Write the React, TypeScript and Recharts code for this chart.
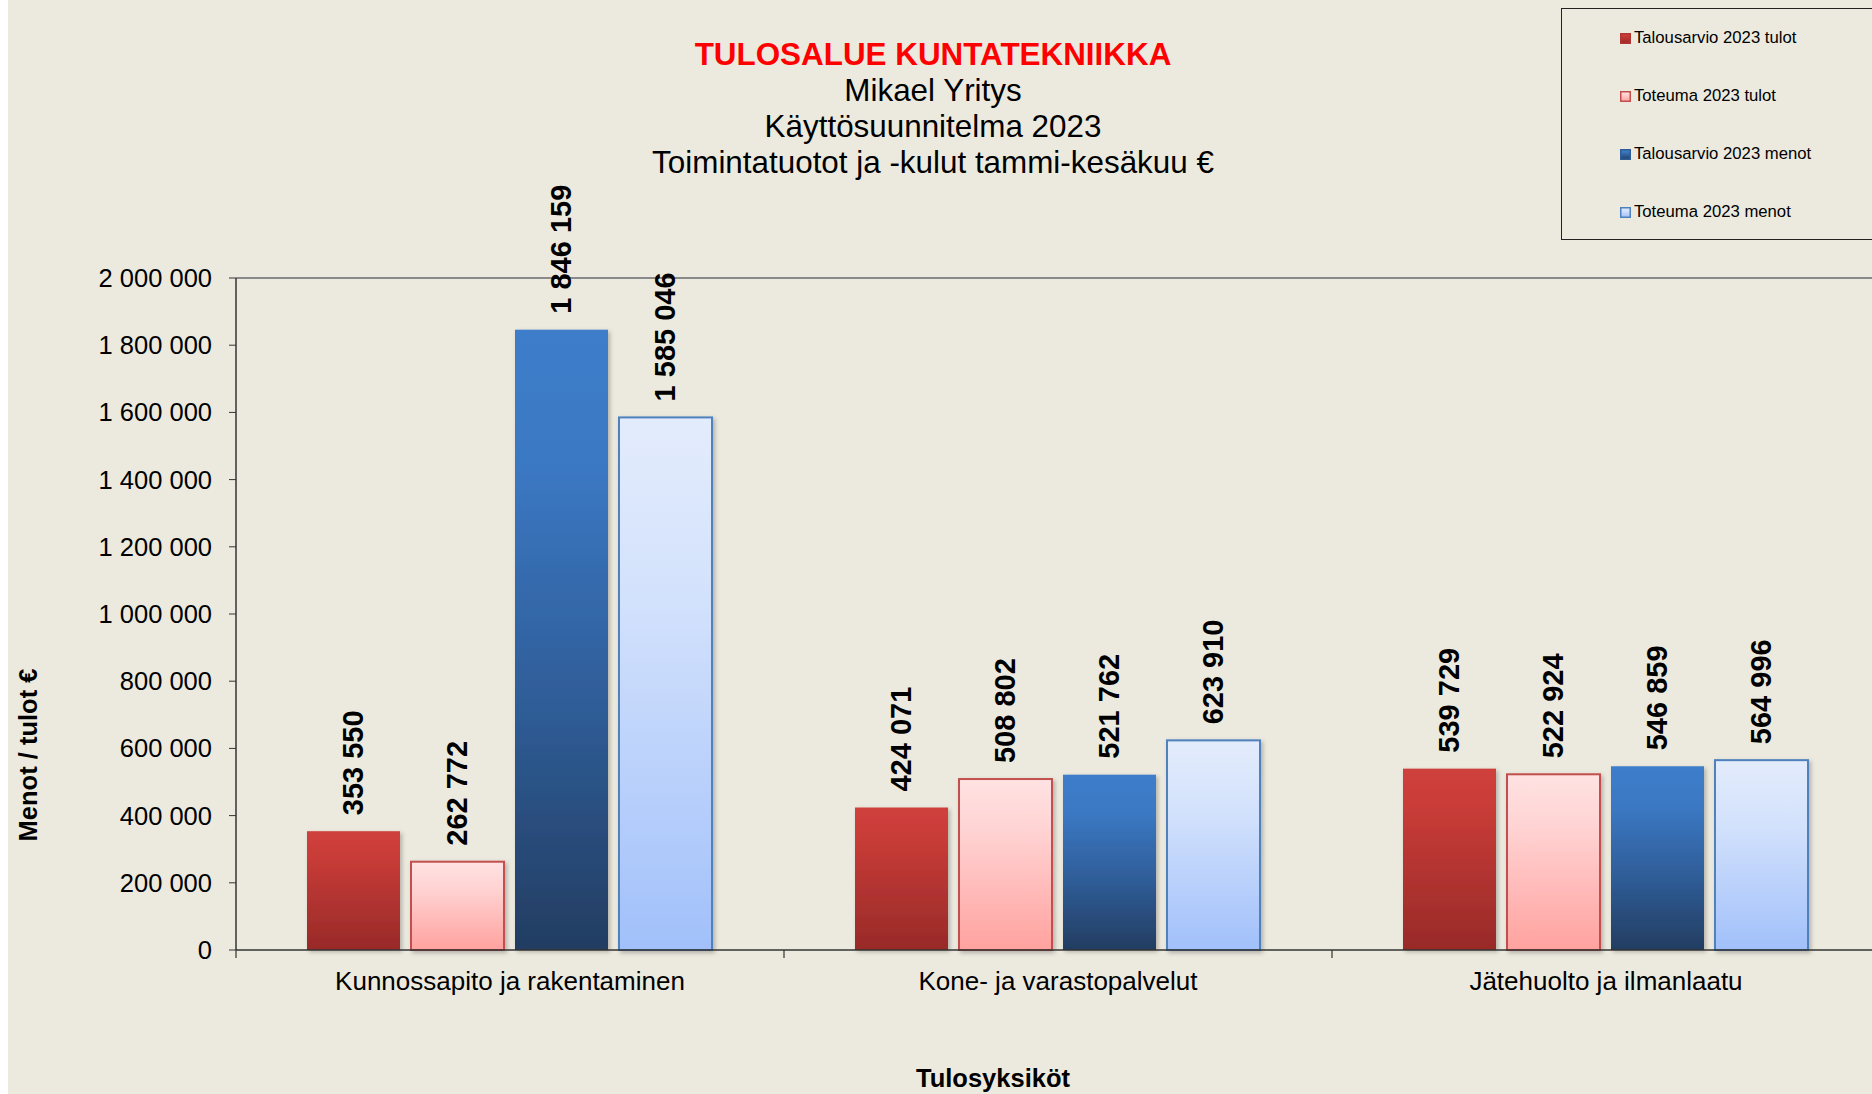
import { BarChart, Bar, XAxis, YAxis, Legend, LabelList, ReferenceLine, Label } from "recharts";

const categories = ["Kunnossapito ja rakentaminen", "Kone- ja varastopalvelut", "Jätehuolto ja ilmanlaatu"];
const budgetIncome = [353550, 424071, 539729];
const actualIncome = [262772, 508802, 522924];
const budgetCosts = [1846159, 521762, 546859];
const actualCosts = [1585046, 623910, 564996];
const seriesNames = ["Talousarvio 2023 tulot", "Toteuma 2023 tulot", "Talousarvio 2023 menot", "Toteuma 2023 menot"];
const yTicks = [0, 200000, 400000, 600000, 800000, 1000000, 1200000, 1400000, 1600000, 1800000, 2000000];
const titleLines = ["TULOSALUE KUNTATEKNIIKKA", "Mikael Yritys", "Käyttösuunnitelma 2023", "Toimintatuotot ja -kulut tammi-kesäkuu €"];

const FONT = "'Liberation Sans', Arial, sans-serif";
const BG = "#ECEADF";
const CHART_W = 1872;
const CHART_H = 1094;
const Y_AXIS_W = 228;
const BAND = (CHART_W - Y_AXIS_W) / categories.length;

const data = categories.map((name, i) => ({
  name,
  s1: budgetIncome[i],
  s2: actualIncome[i],
  s3: budgetCosts[i],
  s4: actualCosts[i],
}));

const fmt = (v: number) => String(v).replace(/\B(?=(\d{3})+(?!\d))/g, " ");

const series = [
  { key: "s1", fill: "url(#g1)", stroke: "none", sw: 0, legendStroke: "#B23532" },
  { key: "s2", fill: "url(#g2)", stroke: "#C0504D", sw: 2, legendStroke: "#C0504D" },
  { key: "s3", fill: "url(#g3)", stroke: "none", sw: 0, legendStroke: "#2F5D98" },
  { key: "s4", fill: "url(#g4)", stroke: "#4F81BD", sw: 2, legendStroke: "#4F81BD" },
];

function BarShape(props: any) {
  const { x, y, width, height, fill, stroke, strokeWidth } = props;
  if (!height || height <= 0) return null;
  return (
    <rect x={x} y={y} width={width} height={height} fill={fill} stroke={stroke} strokeWidth={strokeWidth} filter="url(#barShadow)" />
  );
}

function ValueLabel(props: any) {
  const { x, y, width, value } = props;
  const cx = x + width / 2;
  const cy = y - 16;
  return (
    <text
      x={cx}
      y={cy}
      transform={`rotate(-90 ${cx} ${cy})`}
      textAnchor="start"
      dominantBaseline="central"
      fontFamily={FONT}
      fontWeight="bold"
      fontSize={29}
      fill="#000"
    >
      {fmt(value)}
    </text>
  );
}

function CategoryTick(props: any) {
  const { x, y, payload } = props;
  const axisY = y - 31;
  const left = x - BAND / 2;
  return (
    <g>
      <line x1={left} y1={axisY} x2={left} y2={axisY + 8} stroke="#333" strokeWidth={1.2} />
      <text x={x} y={y} textAnchor="middle" dominantBaseline="central" fontFamily={FONT} fontSize={26} fill="#000">
        {payload.value}
      </text>
    </g>
  );
}

function LegendBox(props: any) {
  const payload = [...(props.payload || [])].sort(
    (a: any, b: any) => series.findIndex((s) => s.key === a.dataKey) - series.findIndex((s) => s.key === b.dataKey)
  );
  return (
    <div
      style={{
        width: 330,
        height: 232,
        boxSizing: "border-box",
        border: "1px solid #222",
        fontFamily: FONT,
        fontSize: 16.7,
        color: "#000",
      }}
    >
      {payload.map((p: any) => {
        const s = series.find((q) => q.key === p.dataKey) || series[0];
        return (
          <div key={p.dataKey} style={{ height: 58, display: "flex", alignItems: "center", paddingLeft: 58 }}>
            <svg width={11} height={11} style={{ marginRight: 3 }}>
              <rect x={0.75} y={0.75} width={9.5} height={9.5} fill={s.fill} stroke={s.legendStroke} strokeWidth={1.5} />
            </svg>
            <span>{p.value}</span>
          </div>
        );
      })}
    </div>
  );
}

export default function App() {
  return (
    <div
      style={{
        position: "fixed",
        left: 8,
        top: 0,
        width: 1864,
        height: CHART_H,
        overflow: "hidden",
        background: BG,
      }}
    >
      <div
        style={{
          position: "absolute",
          left: 925,
          top: 37,
          transform: "translateX(-50%)",
          textAlign: "center",
          whiteSpace: "nowrap",
          fontFamily: FONT,
          fontSize: 31.4,
          lineHeight: "36px",
          color: "#000",
          zIndex: 2,
        }}
      >
        {titleLines.map((t, i) => (
          <div key={i} style={i === 0 ? { color: "#FF0000", fontWeight: "bold" } : undefined}>
            {t}
          </div>
        ))}
      </div>
      <BarChart
        width={CHART_W}
        height={CHART_H}
        data={data}
        margin={{ top: 278, right: 0, bottom: 0, left: 0 }}
        barCategoryGap={71}
        barGap={11}
      >
        <defs>
          <linearGradient id="g1" x1="0" y1="0" x2="0" y2="1">
            <stop offset="0" stopColor="#CF403C" />
            <stop offset="0.2" stopColor="#C93C38" />
            <stop offset="1" stopColor="#982A28" />
          </linearGradient>
          <linearGradient id="g2" x1="0" y1="0" x2="0" y2="1">
            <stop offset="0" stopColor="#FFE2E2" />
            <stop offset="0.3" stopColor="#FFD3D3" />
            <stop offset="1" stopColor="#FFA29F" />
          </linearGradient>
          <linearGradient id="g3" x1="0" y1="0" x2="0" y2="1">
            <stop offset="0" stopColor="#3D7DCA" />
            <stop offset="0.22" stopColor="#3B78C3" />
            <stop offset="0.6" stopColor="#2F5D98" />
            <stop offset="1" stopColor="#233D61" />
          </linearGradient>
          <linearGradient id="g4" x1="0" y1="0" x2="0" y2="1">
            <stop offset="0" stopColor="#E3ECFC" />
            <stop offset="0.35" stopColor="#D2E1FC" />
            <stop offset="1" stopColor="#A1C0FA" />
          </linearGradient>
          <filter id="barShadow" x="-10%" y="-10%" width="125%" height="125%">
            <feDropShadow dx="2" dy="2" stdDeviation="2" floodColor="#000" floodOpacity="0.25" />
          </filter>
        </defs>
        <ReferenceLine y={2000000} stroke="#8A8A8A" strokeWidth={2} />
        <XAxis
          dataKey="name"
          height={144}
          axisLine={{ stroke: "#333", strokeWidth: 1.5 }}
          tickLine={false}
          tickSize={8}
          tickMargin={23}
          tick={<CategoryTick />}
          interval={0}
        >
          <Label
            content={() => (
              <text x={985} y={1078} textAnchor="middle" dominantBaseline="central" fontFamily={FONT} fontWeight="bold" fontSize={25.5} fill="#000">
                Tulosyksiköt
              </text>
            )}
          />
        </XAxis>
        <YAxis
          width={Y_AXIS_W}
          domain={[0, 2000000]}
          ticks={yTicks}
          interval={0}
          axisLine={{ stroke: "#333", strokeWidth: 1.5 }}
          tickLine={{ stroke: "#333" }}
          tickSize={7}
          tickMargin={17}
          tickFormatter={fmt}
          tick={{ fontFamily: FONT, fontSize: 25.5, fill: "#000" }}
        >
          <Label
            content={() => (
              <text x={20} y={755} transform="rotate(-90 20 755)" textAnchor="middle" dominantBaseline="central" fontFamily={FONT} fontWeight="bold" fontSize={25.5} fill="#000">
                Menot / tulot €
              </text>
            )}
          />
        </YAxis>
        <Legend
          layout="horizontal"
          verticalAlign="middle"
          align="center"
          content={<LegendBox />}
          wrapperStyle={{ position: "absolute", left: 1553, top: 8, width: "auto", height: "auto" }}
        />
        {series.map((s, i) => (
          <Bar
            key={s.key}
            dataKey={s.key}
            name={seriesNames[i]}
            fill={s.fill}
            stroke={s.stroke}
            strokeWidth={s.sw}
            shape={<BarShape />}
            isAnimationActive={false}
          >
            <LabelList dataKey={s.key} content={<ValueLabel />} />
          </Bar>
        ))}
      </BarChart>
    </div>
  );
}
